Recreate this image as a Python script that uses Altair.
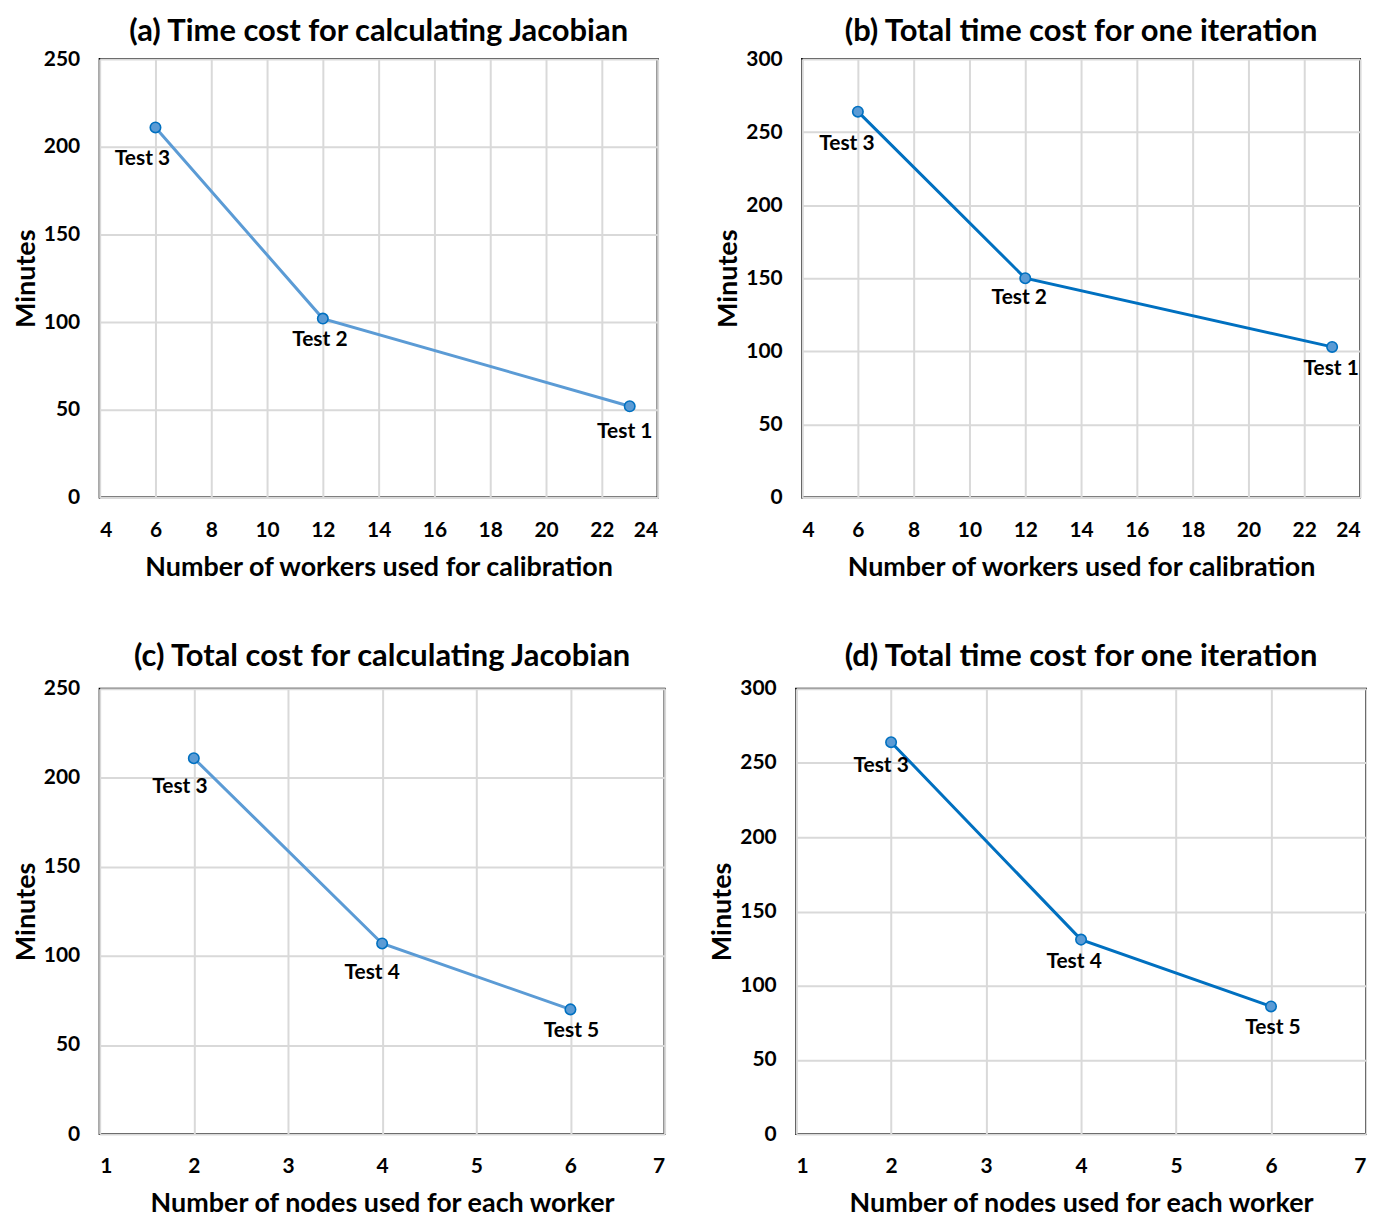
import altair as alt
import pandas as pd

# ---- data ----
workers = [6, 12, 23]
jacobian_a = [211, 102, 52]
total_b = [264, 150, 103]
labels_ab = ["Test 3", "Test 2", "Test 1"]

nodes = [2, 4, 6]
jacobian_c = [211, 107, 70]
total_d = [264, 131, 86]
labels_cd = ["Test 3", "Test 4", "Test 5"]

FONT = "Lato"
LIGHT = "#5B9BD5"
DARK = "#0070C0"

# label offsets (pixels) - styling only
off_a = [(-13, 32), (-3, 22), (-5, 26)]
off_b = [(-11, 32), (-6, 20), (-1, 22)]
off_c = [(-14, 29), (-10, 30), (1, 22)]
off_d = [(-10, 24), (-7, 22), (2, 22)]


def panel(xs, ys, labels, title, xtitle, xdom, xstep, ymax, line_color, w, h, offsets, toff):
    df = pd.DataFrame({"x": xs, "y": ys, "label": labels})
    xscale = alt.Scale(domain=xdom, nice=False, zero=False)
    yscale = alt.Scale(domain=[0, ymax], nice=False)
    xaxis = alt.Axis(values=list(range(xdom[0], xdom[1] + 1, xstep)), title=xtitle,
                     format="d", labelPadding=22, titlePadding=14)
    yaxis = alt.Axis(values=list(range(0, ymax + 1, 50)), title="Minutes",
                     format="d", labelPadding=20, titlePadding=3)
    base = alt.Chart(df)
    enc = dict(x=alt.X("x:Q", scale=xscale, axis=xaxis),
               y=alt.Y("y:Q", scale=yscale, axis=yaxis))
    line = base.mark_line(color=line_color, strokeWidth=3).encode(**enc)
    pts = base.mark_circle(size=110, color=LIGHT, stroke=DARK, strokeWidth=1.6,
                           opacity=1).encode(x="x:Q", y="y:Q")
    layers = [line, pts]
    for lab, (dx, dy) in zip(labels, offsets):
        layers.append(
            base.transform_filter(alt.datum.label == lab)
            .mark_text(dx=dx, dy=dy, font=FONT, fontSize=21, fontWeight="bold",
                       color="black")
            .encode(x="x:Q", y="y:Q", text="label:N")
        )
    return alt.layer(*layers).properties(
        width=w, height=h,
        title=alt.TitleParams(title, font=FONT, fontSize=31, fontWeight="bold",
                              color="black", anchor="middle", offset=toff),
    )


a = panel(workers, jacobian_a, labels_ab, "(a) Time cost for calculating Jacobian",
          "Number of workers used for calibration", [4, 24], 2, 250, LIGHT, 560, 440, off_a, 0)
b = panel(workers, total_b, labels_ab, "(b) Total time cost for one iteration",
          "Number of workers used for calibration", [4, 24], 2, 300, DARK, 560, 440, off_b, 0)
c = panel(nodes, jacobian_c, labels_cd, "(c) Total cost for calculating Jacobian",
          "Number of nodes used for each worker", [1, 7], 1, 250, LIGHT, 567, 447, off_c, 5)
d = panel(nodes, total_d, labels_cd, "(d) Total time cost for one iteration",
          "Number of nodes used for each worker", [1, 7], 1, 300, DARK, 572, 447, off_d, 5)

top = alt.hconcat(a, b, spacing=55)
bottom = alt.hconcat(c, d, spacing=42)

chart = alt.vconcat(top, bottom, spacing=59).properties(
    padding={"left": 3, "top": 5, "right": 0, "bottom": 0}
).configure_view(
    stroke="black", strokeWidth=2
).configure_axis(
    domain=False, ticks=False, grid=True, gridColor="#D9D9D9", gridWidth=2,
    labelFont=FONT, labelFontSize=21, labelFontWeight="bold", labelColor="black",
    titleFont=FONT, titleFontSize=27, titleFontWeight="bold", titleColor="black",
    labelOverlap=False,
)

chart.save("out.html", embed_options={"renderer": "svg", "actions": False})
